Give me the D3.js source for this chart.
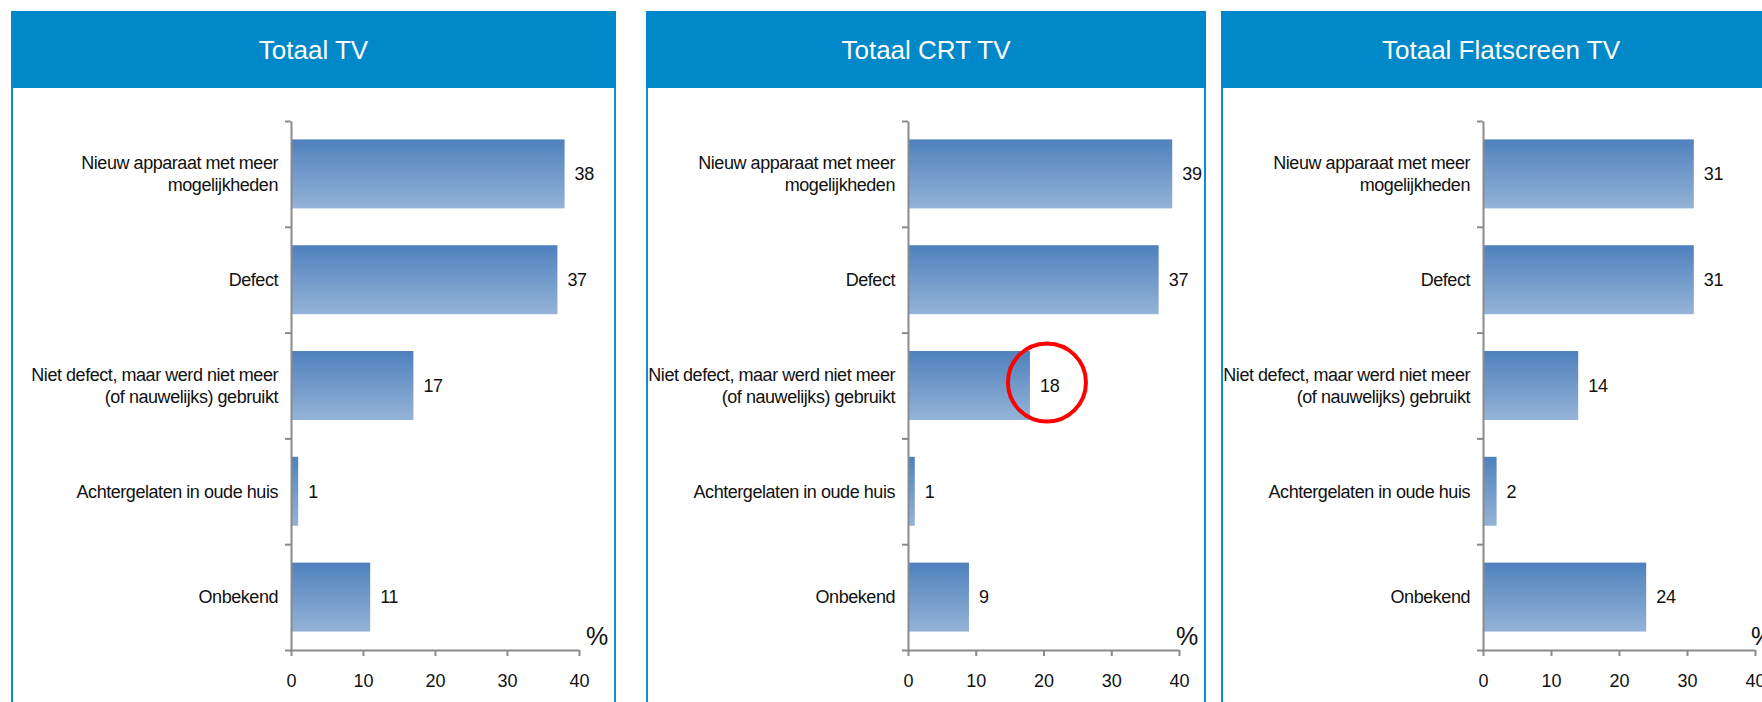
<!DOCTYPE html>
<html>
<head>
<meta charset="utf-8">
<script src="https://cdnjs.cloudflare.com/ajax/libs/d3/7.8.5/d3.min.js"></script>
<style>
    body { margin: 0; background: #fff; }
    svg text { font-family: "Liberation Sans", Arial, sans-serif; }
</style>
</head>
<body>
<div id="grafiek"></div>
<script>
// DATA
var categorieen = ["Nieuw apparaat met meer|mogelijkheden", "Defect", "Niet defect, maar werd niet meer|(of nauwelijks) gebruikt", "Achtergelaten in oude huis", "Onbekend"];
var titels = ["Totaal TV", "Totaal CRT TV", "Totaal Flatscreen TV"];
var totaalTV = [38, 37, 17, 1, 11];
var crtTV = [39, 37, 18, 1, 9];
var flatscreenTV = [31, 31, 14, 2, 24];
var xTicks = [0, 10, 20, 30, 40];
var eenheid = "%";
var markering = [1, 2];   // rode cirkel: paneel CRT, categorie "Niet defect..."

var reeksen = [totaalTV, crtTV, flatscreenTV];

var breedte = 1762, hoogte = 702;
var svg = d3.select('#grafiek').append('svg').attr('width', breedte).attr('height', hoogte);

// verloop voor de balken
var grad = svg.append('defs').append('linearGradient').attr('id', 'balk')
    .attr('x1', 0).attr('y1', 0).attr('x2', 0).attr('y2', 1);
grad.append('stop').attr('offset', '0%').attr('stop-color', '#4f81bd');
grad.append('stop').attr('offset', '100%').attr('stop-color', '#95b3d7');

// panelen: linkerrand, breedte, positie as, lengte as
var panelen = [
    { x: 11, w: 605, as: 280, lengte: 288 },
    { x: 646, w: 560, as: 262, lengte: 271 },
    { x: 1221, w: 560, as: 262, lengte: 272 }
];
var boven = 11, kopHoogte = 77;
var yBoven = 121, yOnder = 650;

var scale_y = d3.scaleBand()
    .domain(d3.range(categorieen.length))
    .range([yBoven, yOnder])
    .paddingInner(0.348)
    .paddingOuter(0.174);

var grenzen = d3.scaleLinear().domain([0, categorieen.length]).range([yBoven, yOnder]);

panelen.forEach(function (p, k) {
    var g = svg.append('g').attr('transform', 'translate(' + p.x + ',0)');
    var data = reeksen[k];

    // kader + kop
    g.append('rect')
        .attr('x', 1).attr('y', boven + 1)
        .attr('width', p.w - 2).attr('height', 800)
        .attr('fill', '#fff').attr('stroke', '#0b8dcf').attr('stroke-width', 2);
    g.append('rect')
        .attr('x', 0).attr('y', boven)
        .attr('width', p.w).attr('height', kopHoogte)
        .attr('fill', '#0088c8');
    g.append('text')
        .attr('x', p.w / 2).attr('y', boven + kopHoogte / 2)
        .attr('dy', '.35em')
        .attr('text-anchor', 'middle')
        .attr('font-size', 26)
        .attr('fill', '#fff')
        .text(titels[k]);

    var scale_x = d3.scaleLinear().domain([0, 40]).range([p.as, p.as + p.lengte]);

    // balken
    g.selectAll('.balk').data(data).enter().append('rect')
        .attr('class', 'balk')
        .attr('x', scale_x(0))
        .attr('y', function (d, i) { return scale_y(i); })
        .attr('width', function (d) { return scale_x(d) - scale_x(0); })
        .attr('height', scale_y.bandwidth())
        .attr('fill', 'url(#balk)');

    // waarden
    g.selectAll('.waarde').data(data).enter().append('text')
        .attr('class', 'waarde')
        .attr('x', function (d) { return scale_x(d) + 10; })
        .attr('y', function (d, i) { return scale_y(i) + scale_y.bandwidth() / 2; })
        .attr('dy', '.35em')
        .attr('font-size', 18)
        .attr('letter-spacing', -0.3)
        .attr('fill', '#111')
        .text(function (d) { return d; });

    // categorie labels
    var lab = g.selectAll('.cat').data(categorieen).enter().append('text')
        .attr('class', 'cat')
        .attr('text-anchor', 'end')
        .attr('font-size', 18)
        .attr('letter-spacing', -0.45)
        .attr('fill', '#111')
        .attr('y', function (d, i) { return scale_y(i) + scale_y.bandwidth() / 2; });
    lab.each(function (d) {
        var regels = d.split('|');
        var t = d3.select(this);
        regels.forEach(function (r, j) {
            t.append('tspan')
                .attr('x', p.as - 13)
                .attr('dy', j == 0 ? (0.35 - (regels.length - 1) * 0.62) + 'em' : '1.24em')
                .text(r);
        });
    });

    // Y as met streepjes tussen categorieen
    var yAs = g.append('g')
        .attr('transform', 'translate(' + p.as + ',0)')
        .call(d3.axisLeft(grenzen).ticks(categorieen.length).tickSize(6).tickSizeOuter(0).tickFormat(''));

    // X as
    var xAs = g.append('g')
        .attr('transform', 'translate(0,' + yOnder + ')')
        .call(d3.axisBottom(scale_x).tickValues(xTicks).tickSize(6).tickSizeOuter(0).tickPadding(18));
    xAs.selectAll('text').attr('font-size', 18).attr('fill', '#111').attr('font-family', null);

    [yAs, xAs].forEach(function (a) {
        a.select('.domain').attr('stroke', '#8a8a8a').attr('stroke-width', 2);
        a.selectAll('.tick line').attr('stroke', '#8a8a8a').attr('stroke-width', 2);
    });

    // eenheid rechtsonder in het paneel
    g.append('text')
        .attr('x', p.w - 19).attr('y', yOnder - 5)
        .attr('text-anchor', 'middle')
        .attr('font-size', 25)
        .attr('fill', '#111')
        .text(eenheid);

    // rode cirkel rond gemarkeerde waarde
    if (markering[0] == k) {
        var i = markering[1];
        g.append('circle')
            .attr('cx', scale_x(data[i]) + 17)
            .attr('cy', scale_y(i) + scale_y.bandwidth() / 2 - 3)
            .attr('r', 39)
            .attr('fill', 'none')
            .attr('stroke', '#ff0000')
            .attr('stroke-width', 4);
    }
});
</script>
</body>
</html>
